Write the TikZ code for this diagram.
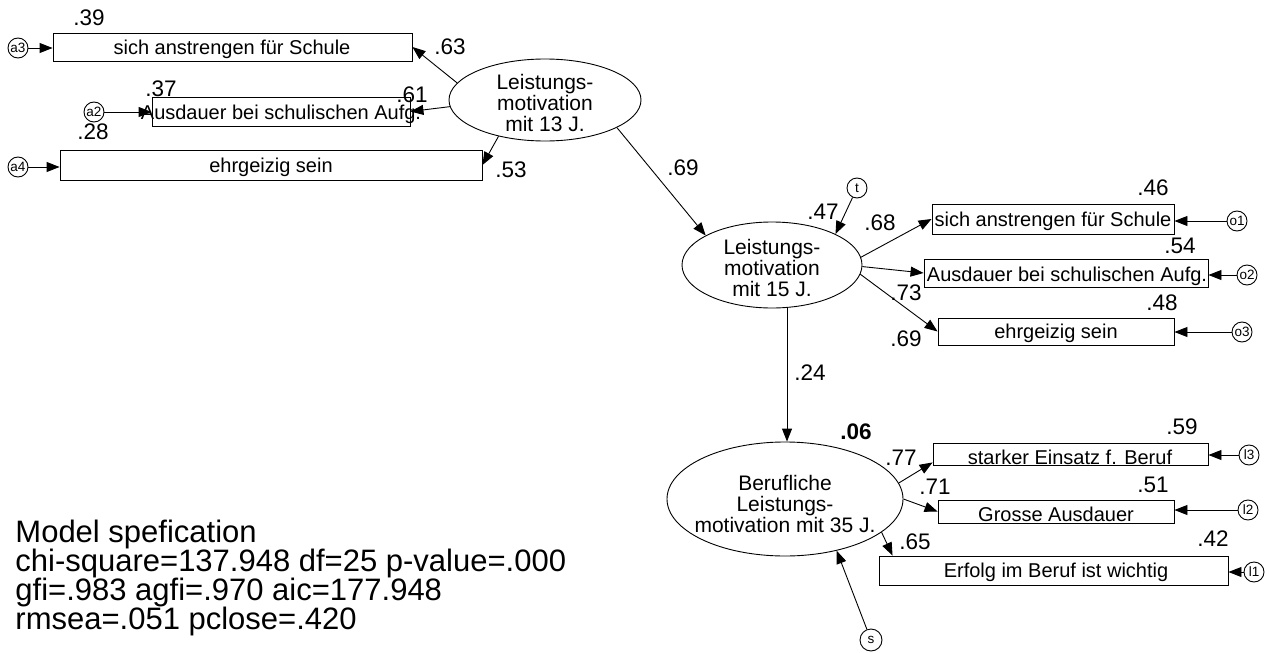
\documentclass[tikz,border=0pt]{standalone}
\usepackage{fontspec}
\setmainfont{Liberation Sans}
\usetikzlibrary{arrows.meta,shapes.geometric}
\begin{document}
\begin{tikzpicture}[x=1pt,y=-1pt,
  line width=0.9pt,
  arr/.style={-{Triangle[length=13pt,width=10pt]}},
  obs/.style={draw, rectangle, inner sep=0pt},
  lat/.style={draw, ellipse, inner sep=0pt},
  err/.style={draw, circle, minimum size=20pt, inner sep=0pt, font=\fontsize{13.5}{13.5}\selectfont},
  btxt/.style={inner sep=0pt, font=\fontsize{20}{20}\selectfont},
  ltxt/.style={inner sep=0pt, align=center, font=\fontsize{21}{21}\selectfont},
  num/.style={inner sep=0pt, font=\fontsize{22.5}{22.5}\selectfont},
  spec/.style={inner sep=0pt, anchor=base west, font=\fontsize{31}{31}\selectfont},
]
\useasboundingbox (0,0) rectangle (1270,653);

% ---------- observed boxes ----------
\node[obs, minimum width=359pt, minimum height=28pt] (b1) at (232.5,47) {};
\node[obs, minimum width=258pt, minimum height=29pt] (b2) at (281,111.5) {};
\node[obs, minimum width=422pt, minimum height=30pt] (b3) at (271,165) {};
\node[obs, minimum width=242pt, minimum height=30pt] (r1) at (1053,219) {};
\node[obs, minimum width=284pt, minimum height=28pt] (r2) at (1066,273) {};
\node[obs, minimum width=236pt, minimum height=27pt] (r3) at (1056,331.5) {};
\node[obs, minimum width=275pt, minimum height=22pt] (p1) at (1070.5,454) {};
\node[obs, minimum width=236pt, minimum height=23pt] (p2) at (1056,511.5) {};
\node[obs, minimum width=349pt, minimum height=29pt] (p3) at (1053.5,570.5) {};

\node[btxt] (b1t) at (232,49) {sich anstrengen für Schule};
\node[btxt] (b2t) at (281,114) {Ausdauer bei schulischen Aufg.};
\node[btxt] (b3t) at (271,167) {ehrgeizig sein};
\node[btxt] (r1t) at (1053,221) {sich anstrengen für Schule};
\node[btxt] (r2t) at (1067,276) {Ausdauer bei schulischen Aufg.};
\node[btxt] (r3t) at (1056,333) {ehrgeizig sein};
\node[btxt] (p1t) at (1070,457) {starker Einsatz f. Beruf};
\node[btxt] (p2t) at (1056,514) {Grosse Ausdauer};
\node[btxt] (p3t) at (1056,572) {Erfolg im Beruf ist wichtig};

% ---------- latent ellipses ----------
\node[lat, minimum width=192pt, minimum height=82pt] (e13) at (545,100) {};
\node[lat, minimum width=180pt, minimum height=86pt] (e15) at (772,265) {};
\node[lat, minimum width=236pt, minimum height=114pt] (e35) at (785,499) {};
\node[ltxt] (e13t) at (545,103) {Leistungs-\\motivation\\mit 13 J.};
\node[ltxt] (e15t) at (772,268) {Leistungs-\\motivation\\mit 15 J.};
\node[ltxt] (e35t) at (785,504) {Berufliche\\Leistungs-\\motivation mit 35 J.};

% ---------- error circles ----------
\node[err] (a3) at (18,48) {a3};
\node[err] (a2) at (94,112) {a2};
\node[err] (a4) at (18,167) {a4};
\node[err] (t) at (857,188) {t};
\node[err] (o1) at (1237,221) {o1};
\node[err] (o2) at (1247,275) {o2};
\node[err] (o3) at (1242,332) {o3};
\node[err] (l3) at (1249,455) {l3};
\node[err] (l2) at (1248,510) {l2};
\node[err] (l1) at (1254,572) {l1};
\node[err, minimum size=22pt] (s) at (871,640) {s};

% ---------- arrows ----------
\draw[arr] (a3.east) -- (a3.east -| b1.west);
\draw[arr] (a2.east) -- (a2.east -| b2.west);
\draw[arr] (a4.east) -- (a4.east -| b3.west);
\draw[arr] (e13.169) -- (b1.east);
\draw[arr] (e13.184) -- (b2.east);
\draw[arr] (e13.218) -- (b3.east);
\draw[arr] (e13.-21) -- (e15.156);
\draw[arr] (t) -- (e15.26);
\draw[arr] (e15.5) -- (r1.west);
\draw[arr] (e15.-1) -- (r2.west);
\draw[arr] (e15.-6) -- (r3.west);
\draw[arr] (o1.west) -- (o1.west -| r1.east);
\draw[arr] (o2.west) -- (o2.west -| r2.east);
\draw[arr] (o3.west) -- (o3.west -| r3.east);
\draw[arr] ([xshift=15pt]e15.south) -- ([xshift=15pt]e15.south |- e35.north);
\draw[arr] (s) -- (e35.-45);
\draw[arr] (e35.8) -- ([yshift=3pt]p1.south west);
\draw[arr] (e35.0) -- (p2.west);
\draw[arr] (e35.-19) -- ([xshift=14pt]p3.north west);
\draw[arr] (l3.west) -- (l3.west -| p1.east);
\draw[arr] (l2.west) -- (l2.west -| p2.east);
\draw[arr] (l1.west) -- (l1.west -| p3.east);

% ---------- coefficients ----------
\node[num] (n39) at (89,18) {.39};
\node[num] (n63) at (450,47) {.63};
\node[num] (n37) at (161,89) {.37};
\node[num] (n61) at (412,95) {.61};
\node[num] (n28) at (93,132) {.28};
\node[num] (n53) at (511,170) {.53};
\node[num] (n69a) at (683,168) {.69};
\node[num] (n47) at (823,212) {.47};
\node[num] (n68) at (880,223) {.68};
\node[num] (n46) at (1153,188) {.46};
\node[num] (n54) at (1180,246) {.54};
\node[num] (n73) at (906,293) {.73};
\node[num] (n48) at (1162,303) {.48};
\node[num] (n69b) at (906,339) {.69};
\node[num] (n24) at (810,373) {.24};
\node[num, font=\fontsize{22.5}{22.5}\selectfont\bfseries] (n06) at (856,432) {.06};
\node[num] (n77) at (901,458) {.77};
\node[num] (n59) at (1182,427) {.59};
\node[num] (n71) at (935,487) {.71};
\node[num] (n51) at (1153,485) {.51};
\node[num] (n65) at (915,542) {.65};
\node[num] (n42) at (1213,539) {.42};

% ---------- model specification ----------
\node[spec] (s1) at (15,542) {Model spefication};
\node[spec] (s2) at (15,571) {chi-square=137.948 df=25 p-value=.000};
\node[spec] (s3) at (15,600) {gfi=.983 agfi=.970 aic=177.948};
\node[spec] (s4) at (15,629) {rmsea=.051 pclose=.420};
\end{tikzpicture}
\end{document}
